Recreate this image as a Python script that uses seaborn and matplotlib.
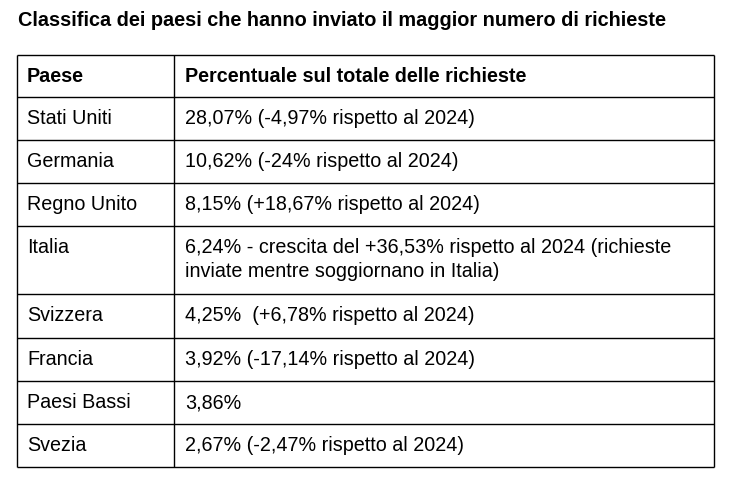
import matplotlib
matplotlib.use("Agg")
import matplotlib.pyplot as plt
import seaborn as sns

title = "Classifica dei paesi che hanno inviato il maggior numero di richieste"
headers = ["Paese", "Percentuale sul totale delle richieste"]
paesi = ["Stati Uniti", "Germania", "Regno Unito", "Italia", "Svizzera", "Francia", "Paesi Bassi", "Svezia"]
valori = [
    "28,07% (-4,97% rispetto al 2024)",
    "10,62% (-24% rispetto al 2024)",
    "8,15% (+18,67% rispetto al 2024)",
    "6,24% - crescita del +36,53% rispetto al 2024 (richieste\ninviate mentre soggiornano in Italia)",
    "4,25%  (+6,78% rispetto al 2024)",
    "3,92% (-17,14% rispetto al 2024)",
    "3,86%",
    "2,67% (-2,47% rispetto al 2024)",
]

sns.set_theme(style="white")
plt.rcParams['font.family'] = ['Liberation Sans', 'DejaVu Sans']
plt.rcParams['text.color'] = 'black'

fig = plt.figure(figsize=(7.5, 4.86), dpi=100)
ax = fig.add_axes([0, 0, 1, 1])
ax.set_xlim(0, 750)
ax.set_ylim(486, 0)
ax.axis("off")

ax.text(18, 20, title, fontsize=14.3, fontweight="bold", va="center", ha="left", color="black")

bounds = [55, 97, 140, 183, 226, 294, 338, 381, 424, 467]
x0, xm, x1 = 17, 174, 714
ax.hlines(bounds, x0, x1, color="black", lw=1)
ax.vlines([x0, xm, x1], bounds[0], bounds[-1], color="black", lw=1)

fs = 14.2
ax.text(x0 + 10, 76, headers[0], fontsize=fs, fontweight="bold", va="center", color="black")
ax.text(xm + 11, 76, headers[1], fontsize=fs, fontweight="bold", va="center", color="black")
for i, (p, v) in enumerate(zip(paesi, valori)):
    top = bounds[i + 1]
    ax.text(x0 + 10, top + 12, p, fontsize=fs, va="top", color="black")
    ax.text(xm + 11, top + 12, v, fontsize=fs, va="top", linespacing=1.3, color="black")

fig.savefig("out.png", dpi=100, facecolor="white")
